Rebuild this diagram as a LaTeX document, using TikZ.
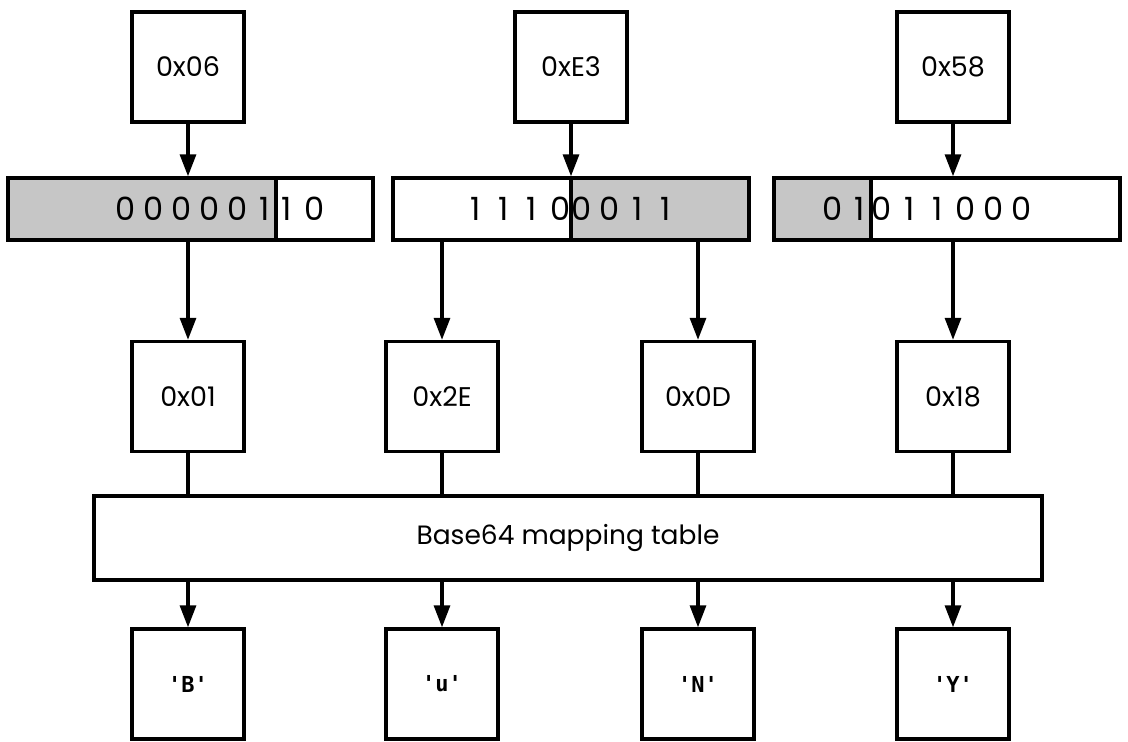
\documentclass[tikz,border=0pt]{standalone}
\usepackage{fontspec}
\setmainfont{Poppins}
\setmonofont{DejaVu Sans Mono}
\usetikzlibrary{
    arrows.meta,
    calc,
    positioning
}
\definecolor{bitgray}{RGB}{198,198,198}
\tikzset{
    hexbox/.style={draw, line width=3.4pt, minimum width=112pt, minimum height=110pt,
        inner sep=0pt, font=\fontsize{27}{30}\selectfont},
    chrbox/.style={hexbox, font=\fontsize{22}{24}\selectfont\ttfamily\bfseries},
    bitcell/.style={draw, line width=3.4pt, minimum height=62pt, inner sep=0pt},
    bitsl/.style={anchor=east, inner sep=0pt, xshift=3pt, font=\fontsize{32}{36}\selectfont},
    bitsr/.style={anchor=west, inner sep=0pt, xshift=-3pt, font=\fontsize{32}{36}\selectfont},
    maptable/.style={draw, line width=3.4pt, minimum width=948pt, minimum height=84pt,
        font=\fontsize{26.5}{30}\selectfont}
}
\newcommand\bitrow[1]{\foreach \b in {#1}{\makebox[28pt]{\b}}}

\begin{document}
\begin{tikzpicture}[x=1pt, y=-1pt, line width=3.2pt, >={Triangle[width=16pt,length=22pt]}]
    \useasboundingbox (0,0) rectangle (1128,742);

    % input bytes
    \node[hexbox] (t1) at (188, 67) {0x06};
    \node[hexbox] (t2) at (571, 67) {0xE3};
    \node[hexbox] (t3) at (953, 67) {0x58};

    % bit strings
    \node[bitcell, fill=bitgray, minimum width=268pt] (b1a) at (142, 209) {};
    \node[bitcell, minimum width=97pt] (b1b) at (324.5, 209) {};
    \node[bitcell, minimum width=178pt] (b2a) at (482, 209) {};
    \node[bitcell, fill=bitgray, minimum width=178pt] (b2b) at (660, 209) {};
    \node[bitcell, fill=bitgray, minimum width=97pt] (b3a) at (822.5, 209) {};
    \node[bitcell, minimum width=249pt] (b3b) at (995.5, 209) {};

    \node[bitsl] (d1a) at (b1a.east) {\bitrow{0,0,0,0,0,1}};
    \node[bitsr] (d1b) at (b1b.west) {\bitrow{1,0}};
    \node[bitsl] (d2a) at (b2a.east) {\bitrow{1,1,1,0}};
    \node[bitsr] (d2b) at (b2b.west) {\bitrow{0,0,1,1}};
    \node[bitsl] (d3a) at (b3a.east) {\bitrow{0,1}};
    \node[bitsr] (d3b) at (b3b.west) {\bitrow{0,1,1,0,0,0}};

    % 6-bit values
    \node[hexbox] (m1) at (188, 396.5) {0x01};
    \node[hexbox] (m2) at (442, 396.5) {0x2E};
    \node[hexbox] (m3) at (698, 396.5) {0x0D};
    \node[hexbox] (m4) at (953, 396.5) {0x18};

    \node[maptable] (map) at (568, 538) {Base64 mapping table};

    % output characters
    \node[chrbox] (c1) at (188, 684) {'B'};
    \node[chrbox] (c2) at (442, 684) {'u'};
    \node[chrbox] (c3) at (698, 684) {'N'};
    \node[chrbox] (c4) at (953, 684) {'Y'};

    \draw
    (t1) edge[->] (t1 |- b1a.north)
    (t2) edge[->] (t2 |- b2a.north)
    (t3) edge[->] (t3 |- b3b.north)
    (m1 |- b1a.south) edge[->] (m1)
    (m2 |- b2a.south) edge[->] (m2)
    (m3 |- b2b.south) edge[->] (m3)
    (m4 |- b3b.south) edge[->] (m4)
    (m1) edge (m1 |- map.north)
    (m2) edge (m2 |- map.north)
    (m3) edge (m3 |- map.north)
    (m4) edge (m4 |- map.north)
    (c1 |- map.south) edge[->] (c1)
    (c2 |- map.south) edge[->] (c2)
    (c3 |- map.south) edge[->] (c3)
    (c4 |- map.south) edge[->] (c4);
\end{tikzpicture}
\end{document}
